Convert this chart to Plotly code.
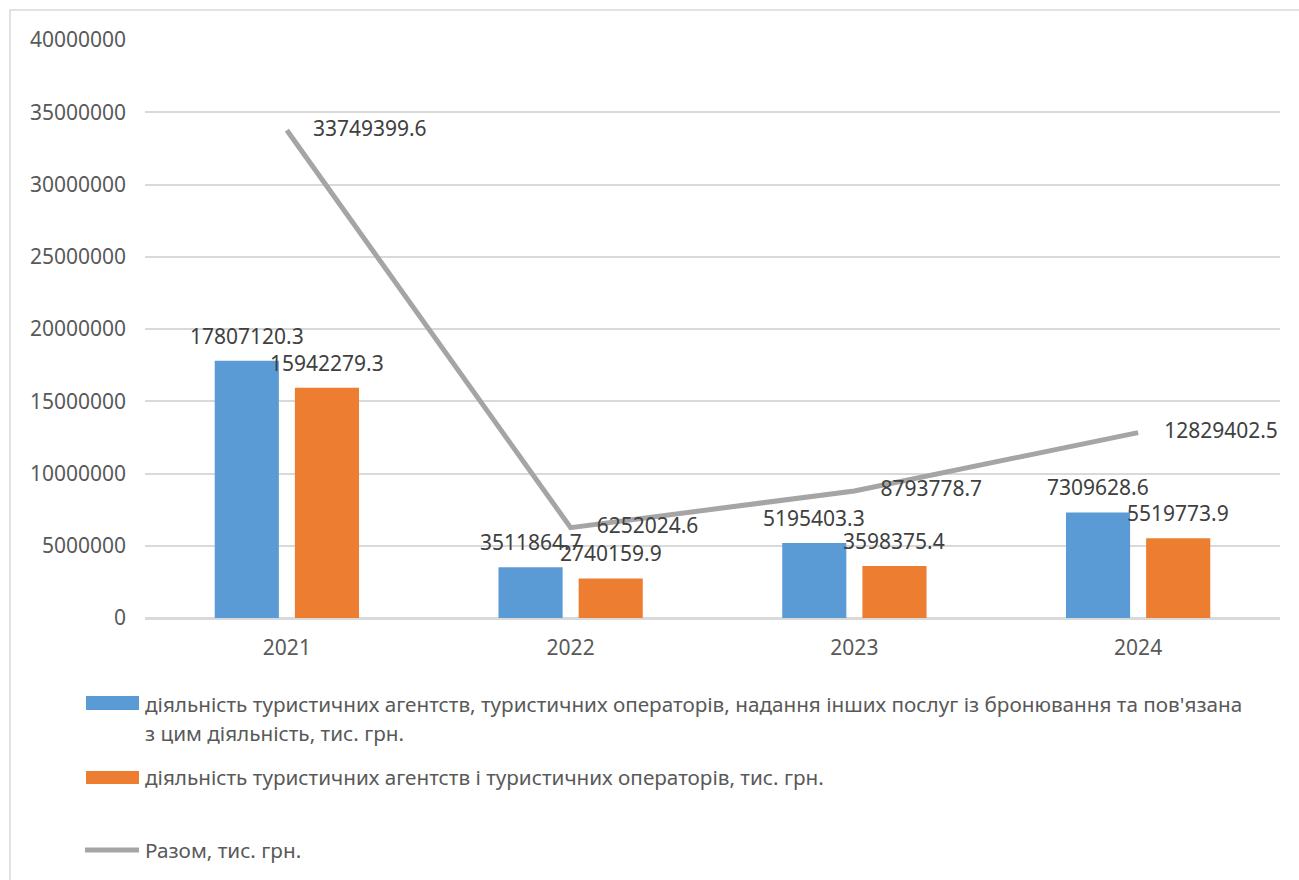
import plotly.graph_objects as go

# Роки та показники, тис. грн.
years = ["2021", "2022", "2023", "2024"]
agency_booking = [17807120.3, 3511864.7, 5195403.3, 7309628.6]
agency_operators = [15942279.3, 2740159.9, 3598375.4, 5519773.9]
total = [33749399.6, 6252024.6, 8793778.7, 12829402.5]

y_ticks = [0, 5000000, 10000000, 15000000, 20000000, 25000000, 30000000, 35000000, 40000000]

name_booking_1 = "діяльність туристичних агентств, туристичних операторів, надання інших послуг із бронювання та пов'язана"
name_booking_2 = "з цим діяльність, тис. грн."
name_operators = "діяльність туристичних агентств і туристичних операторів, тис. грн."
name_total = "Разом, тис. грн."

BLUE = "#5B9BD5"
ORANGE = "#ED7D31"
GRAY = "#A5A5A5"
GRID = "#D9D9D9"
LABEL = "#404040"
AXIS_TXT = "#595959"
FONT = "Noto Sans"

W, H = 1299, 880
L, R, T, B = 145, 19, 40, 262
PW, PH = W - L - R, H - T - B
BARGAP, BARGROUPGAP = 0.435, 0.2


def px(x):
    return (x - L) / PW


def py(y):
    return (H - B - y) / PH


fig = go.Figure()

fig.add_trace(go.Bar(
    x=years, y=agency_booking, name=name_booking_1,
    marker=dict(color=BLUE, line=dict(width=0)), showlegend=False,
))
fig.add_trace(go.Bar(
    x=years, y=agency_operators, name=name_operators,
    marker=dict(color=ORANGE, line=dict(width=0)), showlegend=False,
))
fig.add_trace(go.Scatter(
    x=years, y=total, name=name_total, mode="lines+markers+text",
    line=dict(color=GRAY, width=5),
    marker=dict(size=40, color="rgba(0,0,0,0)"),
    text=[f"{v:.1f}" for v in total], textposition="middle right",
    textfont=dict(family=FONT, size=21, color=LABEL),
    cliponaxis=False, showlegend=False,
))

# value labels above the bars, shifted onto each bar of the group
# (annotations on a category axis are positioned by category index)
slot = PW / len(years) * (1 - BARGAP) / 2
annotations = []
for series, shift in ((agency_booking, -slot / 2), (agency_operators, slot / 2)):
    for i, v in enumerate(series):
        annotations.append(dict(
            x=i, y=v, xref="x", yref="y", text=f"{v:.1f}",
            xshift=shift, yshift=25, xanchor="center", yanchor="middle",
            showarrow=False, font=dict(family=FONT, size=21, color=LABEL),
        ))

shapes = [
    # outer chart border
    dict(type="rect", xref="paper", yref="paper",
         x0=px(10), x1=px(1310), y0=py(890), y1=py(10),
         line=dict(color=GRID, width=1.5), fillcolor="rgba(0,0,0,0)", layer="below"),
    # legend keys
    dict(type="rect", xref="paper", yref="paper",
         x0=px(86), x1=px(139), y0=py(710), y1=py(696),
         line=dict(width=0), fillcolor=BLUE),
    dict(type="rect", xref="paper", yref="paper",
         x0=px(86), x1=px(139), y0=py(784), y1=py(771),
         line=dict(width=0), fillcolor=ORANGE),
    dict(type="line", xref="paper", yref="paper",
         x0=px(85), x1=px(139), y0=py(850), y1=py(850),
         line=dict(color=GRAY, width=5)),
]

legend_font = dict(family=FONT, size=20.7, color=AXIS_TXT)
legend_items = [
    (704, name_booking_1),
    (733, name_booking_2),
    (777, name_operators),
    (850, name_total),
]
for ypix, txt in legend_items:
    annotations.append(dict(
        x=px(143), y=py(ypix), text=txt, xref="paper", yref="paper",
        xanchor="left", yanchor="middle", showarrow=False,
        font=legend_font, align="left",
    ))

fig.update_layout(
    width=W, height=H,
    margin=dict(l=L, r=R, t=T, b=B),
    paper_bgcolor="white", plot_bgcolor="white",
    barmode="group", bargap=BARGAP, bargroupgap=BARGROUPGAP,
    font=dict(family=FONT, size=21, color=AXIS_TXT),
    shapes=shapes, annotations=annotations,
)
fig.update_yaxes(
    range=[0, 40000000], tickvals=y_ticks, ticktext=[str(v) for v in y_ticks],
    showgrid=True, gridcolor=GRID, gridwidth=1.5, zeroline=True,
    zerolinecolor=GRID, zerolinewidth=1.5, showline=False,
    tickfont=dict(family=FONT, size=21, color=AXIS_TXT), ticklabelstandoff=18,
)
fig.update_xaxes(
    type="category", categoryorder="array", categoryarray=years,
    range=[-0.5, len(years) - 0.5],
    showgrid=False, showline=True, linecolor=GRID, linewidth=1.5,
    tickfont=dict(family=FONT, size=21, color=AXIS_TXT), ticklabelstandoff=10,
)

fig.write_html("out.html")
